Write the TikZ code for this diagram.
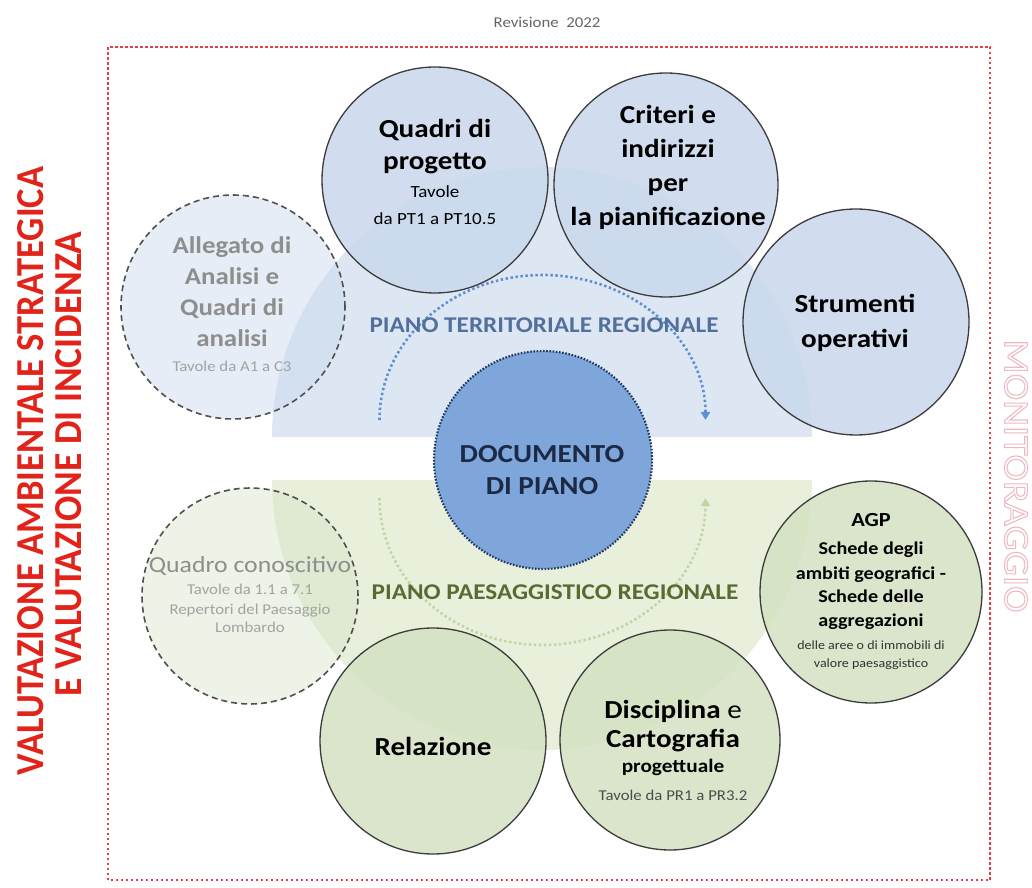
\documentclass[tikz,border=0pt]{standalone}
\usepackage{fontspec}
\setmainfont{Carlito}[FakeStretch=1.12]
\usepackage{graphicx}
\usetikzlibrary{arrows.meta}
\definecolor{bluereg}{HTML}{DDE7F4}
\definecolor{greenreg}{HTML}{E8EFDB}
\definecolor{topfill}{HTML}{C9D8EC}
\definecolor{botfill}{HTML}{D4E1C2}
\definecolor{docfill}{HTML}{7EA6DA}
\definecolor{docborder}{HTML}{233A60}
\definecolor{circborder}{HTML}{3C3C3C}
\definecolor{dashborder}{HTML}{505050}
\definecolor{grayhead}{HTML}{8E8E8E}
\definecolor{graysmall}{HTML}{A3A3A3}
\definecolor{ptrcol}{HTML}{52709B}
\definecolor{pprcol}{HTML}{5A6A33}
\definecolor{redtxt}{HTML}{E2231A}
\definecolor{framecol}{HTML}{E0404A}
\definecolor{bluearc}{HTML}{5F8FD0}
\definecolor{greenarc}{HTML}{C3D4A6}
\definecolor{pinktxt}{HTML}{EFB9C0}
\definecolor{navytxt}{HTML}{1C2A45}
\newcommand\szline[2]{{\fontsize{#1}{#1}\selectfont\mdseries #2}}
\begin{document}
\begin{tikzpicture}[x=1pt,y=1pt,
  solidc/.style={circle, draw=circborder, line width=1.3pt, inner sep=0pt, minimum size=#1},
  dashc/.style={circle, draw=dashborder, line width=1.6pt, dash pattern=on 6pt off 4pt, inner sep=0pt, minimum size=#1},
  txt/.style={align=center, inner sep=0pt, text=black},
  ghosttxt/.style={align=center, inner sep=0pt, text=grayhead},
  dotarc/.style={line width=2.6pt, dash pattern=on 2.4pt off 2.6pt}
]
\useasboundingbox (0,0) rectangle (1032,887);
\fill[white] (0,0) rectangle (1032,887);

% background regions
\fill[bluereg] (272,450) arc[start angle=180, end angle=0, radius=270] -- cycle;
\fill[greenreg] (272,407) arc[start angle=180, end angle=360, radius=270] -- cycle;

% dotted circular arrows
\coordinate (ptrS) at (379.5,467);
\coordinate (pprS) at (379.5,389);
\draw[dotarc, draw=bluearc, -{Triangle[length=8pt,width=9pt]}] (ptrS) arc[start angle=180, end angle=0, x radius=163, y radius=145];
\draw[dotarc, draw=greenarc, -{Triangle[length=8pt,width=9pt]}] (pprS) arc[start angle=180, end angle=360, x radius=163, y radius=147];

% dashed (ghost) circles
\node[dashc=224pt, fill=topfill, fill opacity=0.45] (allegato) at (233,580) {};
\node[dashc=216pt, fill=botfill, fill opacity=0.4] (quadrocon) at (250,291) {};

% solid circles
\node[solidc=226pt, fill=topfill, fill opacity=0.85] (quadri) at (435,707) {};
\node[solidc=224pt, fill=topfill, fill opacity=0.85] (criteri) at (666,702) {};
\node[solidc=226pt, fill=topfill, fill opacity=0.85] (strumenti) at (856,565) {};
\node[solidc=222pt, fill=botfill, fill opacity=0.85] (agp) at (871,295) {};
\node[solidc=226pt, fill=botfill, fill opacity=0.85] (relazione) at (433,146) {};
\node[solidc=220pt, fill=botfill, fill opacity=0.85] (disciplina) at (670,147) {};
\node[circle, inner sep=0pt, minimum size=218pt, fill=docfill, draw=docborder, line width=2.2pt, dash pattern=on 1.6pt off 1.6pt] (documento) at (543,427) {};

% labels of the two plans
\node[inner sep=0pt, text=ptrcol, font=\fontsize{22.5}{26}\selectfont\bfseries] (ptrL) at (544,562) {PIANO TERRITORIALE REGIONALE};
\node[inner sep=0pt, text=pprcol, font=\fontsize{22.5}{26}\selectfont\bfseries] (pprL) at (555,295) {PIANO PAESAGGISTICO REGIONALE};

% circle texts
\node[txt, font=\fontsize{26}{32}\selectfont\bfseries] (quadriT) at (435,715)
  {Quadri di\\progetto\\[-4pt]\szline{17}{Tavole}\\[-5pt]\szline{17}{da PT1 a PT10.5}};
\node[txt, font=\fontsize{26}{34}\selectfont\bfseries] (criteriT) at (668,720)
  {Criteri e\\indirizzi\\per\\la pianificazione};
\node[txt, font=\fontsize{26}{35}\selectfont\bfseries] (strumentiT) at (855,564)
  {Strumenti\\operativi};
\node[ghosttxt, font=\fontsize{24}{31}\selectfont\bfseries] (allegatoT) at (232,583)
  {Allegato di\\Analisi e\\Quadri di\\analisi\\[-6pt]\szline{15}{\color{graysmall}Tavole da A1 a C3}};
\node[txt, text=navytxt, font=\fontsize{26}{32}\selectfont\bfseries] (docT) at (542,417)
  {DOCUMENTO\\DI PIANO};
\node[ghosttxt, font=\fontsize{15}{20}\selectfont] (quadrocT) at (250,292)
  {\szline{23}{Quadro conoscitivo}\\[2pt]\textcolor{graysmall}{Tavole da 1.1 a 7.1}\\\textcolor{graysmall}{Repertori del Paesaggio}\\[-2pt]\textcolor{graysmall}{Lombardo}};
\node[txt, font=\fontsize{18}{24}\selectfont\bfseries] (agpT) at (871,295)
  {{\fontsize{20}{24}\selectfont AGP}\\[4pt]Schede degli\\[1pt]ambiti geografici -\\[-1pt]Schede delle\\aggregazioni\\[-1pt]\szline{12.5}{\color{black!80}delle aree o di immobili di}\\[-6pt]\szline{12.5}{\color{black!80}valore paesaggistico}};
\node[txt, font=\fontsize{26}{32}\selectfont\bfseries] (relT) at (433,141) {Relazione};
\node[txt, font=\fontsize{26}{29}\selectfont\bfseries] (discT) at (673,137)
  {Disciplina {\mdseries e}\\Cartografia\\[-4pt]{\fontsize{19}{19}\selectfont progettuale}\\[-1pt]\szline{15}{\color{black!70}Tavole da PR1 a PR3.2}};

% frame
\draw[framecol, line width=2.2pt, dash pattern=on 2.5pt off 2.5pt] (108,7) rectangle (990,840);

% title
\node[inner sep=0pt, text=black!60, font=\fontsize{15}{18}\selectfont] (title) at (547,865) {Revisione\ \ 2022};

% vertical side texts
\node[rotate=90, inner sep=0pt, text=redtxt] (vas1) at (31,416) {\resizebox{608pt}{26pt}{\bfseries VALUTAZIONE AMBIENTALE STRATEGICA}};
\node[rotate=90, inner sep=0pt, text=redtxt] (vas2) at (69,423) {\resizebox{465pt}{26pt}{\bfseries E VALUTAZIONE DI INCIDENZA}};
\node[rotate=-90, inner sep=0pt, text=pinktxt] (monit) at (1016,411) {\special{pdf:literal direct 1 Tr 0.3 w}\resizebox{273pt}{23pt}{MONITORAGGIO}\special{pdf:literal direct 0 Tr}};
\end{tikzpicture}
\end{document}
